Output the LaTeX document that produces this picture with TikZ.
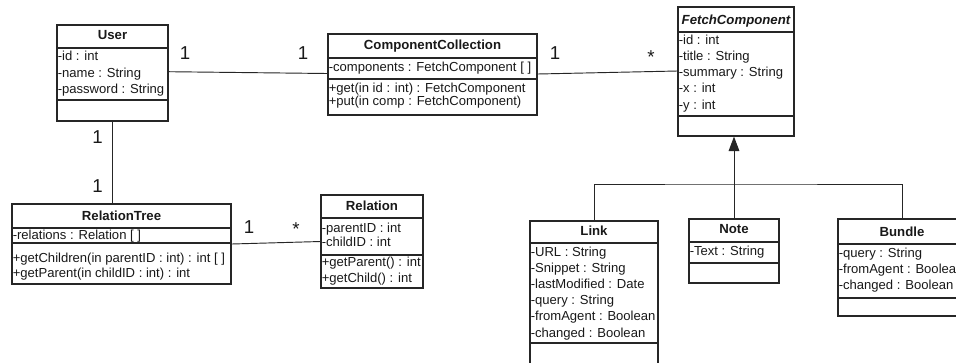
\documentclass[tikz,border=0pt]{standalone}
\usepackage{fontspec}
\setmainfont{Liberation Sans}
\usetikzlibrary{fit,arrows.meta}

\definecolor{umlline}{gray}{0.15}
\definecolor{umltext}{gray}{0.1}

\tikzset{
  classbox/.style={draw=umlline, line width=0.9pt, inner sep=0pt, fill=white},
  divider/.style={draw=umlline, line width=0.9pt},
  member/.style={anchor=west, inner sep=0pt, text=umltext,
    font=\fontsize{9.8}{12}\selectfont, text height=.7em, text depth=.1em},
  classname/.style={member, anchor=center, font=\bfseries\fontsize{9.9}{12}\selectfont},
  assoc/.style={draw=umlline, line width=0.7pt},
  mult/.style={inner sep=0pt, text=umltext, font=\fontsize{14}{16}\selectfont},
}

% class box: name, x1, y1, x2, y2, first divider, second divider, title y, title
\newcommand\umlclass[9]{%
  \node[classbox, fit={(#2,#3) (#4,#5)}] (#1) {};
  \draw[divider] (#1.west |- 0,#6) -- (#1.east |- 0,#6);
  \draw[divider] (#1.west |- 0,#7) -- (#1.east |- 0,#7);
  \node[classname] (#1-name) at ({(#2+#4)/2},#8) {#9};
}
% compartment lines: name prefix, x, first line y, line step, entries
\newcommand\members[5]{%
  \foreach \m [count=\k from 0] in {#5}
    \node[member] (#1-\k) at (#2,{#3+\k*#4}) {\m};
}

\begin{document}
\begin{tikzpicture}[x=0.75pt,y=-0.75pt]
\useasboundingbox (0,0) rectangle (956,362);
\fill[white] (0,0) rectangle (956,362);
\clip (0,0) rectangle (956,362);

% classes
\umlclass{user}{57}{25}{168}{121}{48}{100}{35.5}{User}
\members{user-a}{57.5}{56.7}{16.3}{{-id : int},{-name : String},{-password : String}}

\umlclass{cc}{328}{34}{537}{115}{58}{79}{45.5}{ComponentCollection}
\members{cc-a}{328.5}{67}{0}{{-components : FetchComponent [ ]}}
\members{cc-o}{328.5}{88.3}{13.6}{{+get(in id : int) : FetchComponent},{+put(in comp : FetchComponent)}}

\umlclass{fc}{678}{7}{794}{136}{32}{116}{20}{\itshape FetchComponent}
\members{fc-a}{678.5}{40}{16.25}{{-id : int},{-title : String},{-summary : String},{-x : int},{-y : int}}

\umlclass{rt}{12}{204}{231}{284}{228}{243}{216.5}{RelationTree}
\members{rt-a}{12.5}{235.5}{0}{{-relations : Relation [ ]}}
\members{rt-o}{12.5}{258}{15}{{+getChildren(in parentID : int) : int [ ]},{+getParent(in childID : int) : int}}

\umlclass{rel}{321}{195}{423}{288}{218}{255}{206}{Relation}
\members{rel-a}{321.5}{228.3}{14.5}{{-parentID : int},{-childID : int}}
\members{rel-o}{321.5}{262}{16}{{+getParent() : int},{+getChild() : int}}

\umlclass{link}{530}{221}{658}{366}{243}{343}{231.5}{Link}
\members{link-a}{530.5}{252.7}{16.06}{{-URL : String},{-Snippet : String},{-lastModified : Date},{-query : String},{-fromAgent : Boolean},{-changed : Boolean}}

\umlclass{note}{689}{219}{779}{283}{242}{263}{229.5}{Note}
\members{note-a}{689.5}{251}{0}{{-Text : String}}

\umlclass{bundle}{838}{219}{966}{316}{244}{298}{232}{Bundle}
\members{bundle-a}{838.5}{253.3}{16.3}{{-query : String},{-fromAgent : Boolean},{-changed : Boolean}}

% associations
\draw[assoc] (user.east |- 0,71.7) -- (cc.west |- 0,73.5);
\draw[assoc] (cc.east |- 0,74) -- (fc.west |- 0,71);
\draw[assoc] (user.south) -- (user.south |- rt.north);
\draw[assoc] (rt.east |- 0,244) -- (rel.west |- 0,241.5);

% generalization
\coordinate (bus) at (734,184);
\draw[assoc] (link.north) |- (bus) -| (bundle.north);
\draw[assoc, -{Triangle[width=8pt,length=10.8pt]}] (note.north) -- (note.north |- fc.south);

% multiplicities
\node[mult] (m1) at (185,53.5) {1};
\node[mult] (m2) at (303,53.5) {1};
\node[mult] (m3) at (555,53.5) {1};
\node[mult] (m4) at (651,57) {*};
\node[mult] (m5) at (97.5,137) {1};
\node[mult] (m6) at (97.5,186.5) {1};
\node[mult] (m7) at (249,226.7) {1};
\node[mult] (m8) at (296,229.3) {*};
\end{tikzpicture}
\end{document}
